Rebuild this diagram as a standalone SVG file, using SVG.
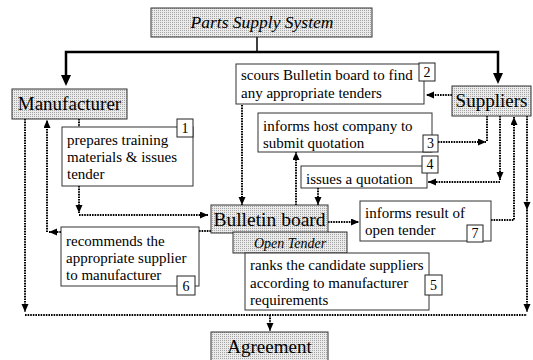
<svg xmlns="http://www.w3.org/2000/svg" width="533" height="360" viewBox="0 0 533 360">
<defs>
<pattern id="stip" width="2" height="2" patternUnits="userSpaceOnUse">
<rect width="2" height="2" fill="#ebebeb"/>
<rect width="1" height="1" fill="#a4a4a4"/>
</pattern>
<marker id="ah" markerUnits="userSpaceOnUse" markerWidth="9" markerHeight="8" refX="8" refY="3.5" orient="auto">
<path d="M0,0 L8,3.5 L0,7 z" fill="#000"/>
</marker>
<marker id="aht" markerUnits="userSpaceOnUse" markerWidth="12" markerHeight="11" refX="2" refY="5" orient="auto">
<path d="M0,0 L11,5 L0,10 z" fill="#000"/>
</marker>
</defs>
<style>
.box{fill:#fff;stroke:#333;stroke-width:1}
.gbox{fill:url(#stip);stroke:#333;stroke-width:1}
.num{fill:#fff;stroke:#222;stroke-width:1}
.t{font-family:"Liberation Serif","Times New Roman",serif;fill:#000}
.s15{font-size:15px}
.big{font-size:19px;text-anchor:middle}
.n{font-size:14px;text-anchor:middle}
.it{font-style:italic;text-anchor:middle}
.solid{fill:none;stroke:#000;stroke-width:2.5}
.dot{fill:none;stroke:#000;stroke-width:2;stroke-dasharray:1.6 1}
</style>

<g id="connectors">
<path class="solid" style="stroke-width:1.5" d="M257,37 V52"/>
<path class="solid" d="M257,52 H66 V77" marker-end="url(#aht)"/>
<path class="solid" d="M257,52 H498 V75" marker-end="url(#aht)"/>
<path class="dot" d="M452,95 H426" marker-end="url(#ah)"/>
<path class="dot" d="M242,105 V205" marker-end="url(#ah)"/>
<path class="dot" d="M79,119 V127"/>
<path class="dot" d="M79,186 V213" marker-end="url(#ah)"/>
<path class="dot" d="M79,215 H208" marker-end="url(#ah)"/>
<path class="dot" d="M211,231 H199"/>
<path class="dot" d="M61,232 H49" marker-end="url(#ah)"/>
<path class="dot" d="M47,232 V120" marker-end="url(#ah)"/>
<path class="dot" d="M25,119 V312" marker-end="url(#ah)"/>
<path class="dot" d="M25,315 H527"/>
<path class="dot" d="M527,116 V210" marker-end="url(#ah)"/>
<path class="dot" d="M527,210 V312" marker-end="url(#ah)"/>
<path class="dot" d="M270,315 V331" marker-end="url(#ah)"/>
<path class="dot" d="M296,205 V152" marker-end="url(#ah)"/>
<path class="dot" d="M318,188 V205" marker-end="url(#ah)"/>
<path class="dot" d="M328,222 H359" marker-end="url(#ah)"/>
<path class="dot" d="M438,142 H486" marker-end="url(#ah)"/>
<path class="dot" d="M487,116 V142"/>
<path class="dot" d="M500,116 V180" marker-end="url(#ah)"/>
<path class="dot" d="M500,182 H428" marker-end="url(#ah)"/>
<path class="dot" d="M491,220 H514 V117" marker-end="url(#ah)"/>
</g>

<g id="title">
<rect class="gbox" x="151" y="8" width="221" height="29"/>
<text class="t it" x="262" y="28" style="font-size:17.5px">Parts Supply System</text>
</g>

<g id="manufacturer">
<rect class="gbox" x="12" y="89" width="115" height="30"/>
<text class="t big" x="69.5" y="110">Manufacturer</text>
</g>

<g id="suppliers">
<rect class="gbox" x="452" y="86" width="79" height="30"/>
<text class="t big" x="491.5" y="107">Suppliers</text>
</g>

<g id="step2">
<rect class="box" x="236" y="64" width="188" height="40"/>
<text class="t s15" x="241" y="80">scours Bulletin board to find</text>
<text class="t s15" x="241" y="98">any appropriate tenders</text>
<rect class="num" x="419" y="63" width="16" height="18"/>
<text class="t n" x="427" y="77">2</text>
</g>

<g id="step1">
<rect class="box" x="62" y="127" width="131" height="59"/>
<text class="t s15" x="67" y="145">prepares training</text>
<text class="t s15" x="67" y="162">materials &amp; issues</text>
<text class="t s15" x="67" y="179">tender</text>
<rect class="num" x="177" y="119" width="16" height="18"/>
<text class="t n" x="185" y="133">1</text>
</g>

<g id="step3">
<rect class="box" x="258" y="113" width="174" height="39"/>
<text class="t s15" x="263" y="131">informs host company to</text>
<text class="t s15" x="263" y="148">submit quotation</text>
<rect class="num" x="423" y="135" width="15" height="17"/>
<text class="t n" x="430.5" y="148">3</text>
</g>

<g id="step4">
<rect class="box" x="301" y="166" width="126" height="22"/>
<text class="t s15" x="306" y="184">issues a quotation</text>
<rect class="num" x="422" y="156" width="16" height="17"/>
<text class="t n" x="430" y="169">4</text>
</g>

<g id="bulletin">
<rect class="gbox" x="211" y="205" width="117" height="28"/>
<text class="t" x="269.5" y="226" style="font-size:19.5px;text-anchor:middle">Bulletin board</text>
</g>

<g id="opentender">
<rect class="gbox" x="233" y="232" width="114" height="21"/>
<text class="t it" x="290" y="248" style="font-size:14px">Open Tender</text>
</g>

<g id="step7">
<rect class="box" x="360" y="201" width="131" height="40"/>
<text class="t s15" x="365" y="218">informs result of</text>
<text class="t s15" x="365" y="235">open tender</text>
<rect class="num" x="467" y="225" width="16" height="17"/>
<text class="t n" x="475" y="238">7</text>
</g>

<g id="step5">
<rect class="box" x="245" y="253" width="184" height="57"/>
<text class="t s15" x="250" y="270">ranks the candidate suppliers</text>
<text class="t s15" x="250" y="288">according to manufacturer</text>
<text class="t s15" x="250" y="305">requirements</text>
<rect class="num" x="425" y="275" width="17" height="20"/>
<text class="t n" x="433.5" y="290">5</text>
</g>

<g id="step6">
<rect class="box" x="61" y="227" width="138" height="59"/>
<text class="t s15" x="66" y="246">recommends the</text>
<text class="t s15" x="66" y="263">appropriate supplier</text>
<text class="t s15" x="66" y="280">to manufacturer</text>
<rect class="num" x="177" y="276" width="18" height="19"/>
<text class="t n" x="186" y="291">6</text>
</g>

<g id="agreement">
<rect class="gbox" x="211" y="332" width="117" height="30"/>
<text class="t big" x="269.5" y="353">Agreement</text>
</g>
</svg>
